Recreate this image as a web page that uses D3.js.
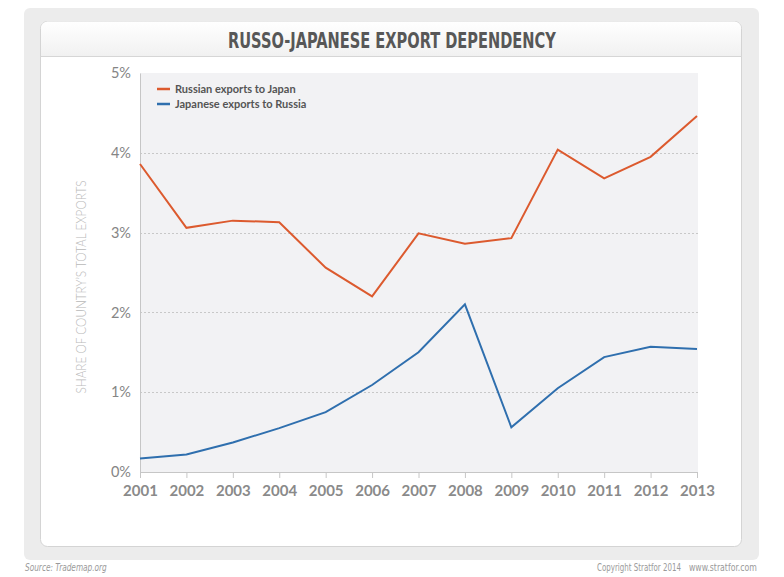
<!DOCTYPE html>
<html><head><meta charset="utf-8">
<script src="https://cdn.jsdelivr.net/npm/d3@7"></script>
<style>
html,body{margin:0;padding:0;background:#fff;}
svg{display:block;}
</style></head>
<body>
<svg id="chart" width="784" height="577"></svg>
<script>
const years = [2001,2002,2003,2004,2005,2006,2007,2008,2009,2010,2011,2012,2013];
const russiaToJapan = [3.86,3.06,3.15,3.13,2.56,2.20,2.99,2.86,2.93,4.04,3.68,3.95,4.46];
const japanToRussia = [0.17,0.22,0.37,0.55,0.75,1.09,1.50,2.10,0.56,1.05,1.44,1.57,1.54];
const yTicks = [0,1,2,3,4,5];
const seriesNames = ["Russian exports to Japan","Japanese exports to Russia"];
const seriesColors = ["#dc5a2e","#2f6fae"];

(function(){
const svg = d3.select("#chart");
const font = "Lato, 'Open Sans', sans-serif";
const narrow = "'DejaVu Sans Condensed','Liberation Sans Narrow',sans-serif";

svg.append("rect").attr("x",24).attr("y",8).attr("width",735).attr("height",552).attr("rx",6).attr("fill","#ececec");
const defs = svg.append("defs");
const g1 = defs.append("linearGradient").attr("id","hdr").attr("x1",0).attr("x2",0).attr("y1",0).attr("y2",1);
g1.append("stop").attr("offset","0%").attr("stop-color","#ffffff");
g1.append("stop").attr("offset","100%").attr("stop-color","#f1f1f1");
svg.append("rect").attr("x",40.5).attr("y",21.5).attr("width",701).attr("height",525).attr("rx",7)
  .attr("fill","#fff").attr("stroke","#d4d4d4").attr("stroke-width",1);
svg.append("path").attr("d","M41,56 V28.5 a7,7 0 0 1 7,-7 H734 a7,7 0 0 1 7,7 V56 Z").attr("fill","url(#hdr)");
svg.append("line").attr("x1",40.5).attr("x2",741.5).attr("y1",56.5).attr("y2",56.5).attr("stroke","#d6d6d6");

// text squeezed horizontally to a target width (via transform so its box is true)
function fitText(parent, xStart, yBase, width, text, attrs){
  const g = parent.append("g");
  const t = g.append("text").attr("x",0).attr("y",0).text(text);
  Object.entries(attrs).forEach(([k,v])=>t.attr(k,v));
  const w = t.node().getComputedTextLength();
  const s = width / w;
  g.attr("transform",`translate(${xStart},${yBase}) scale(${s},1)`);
  return g;
}

fitText(svg, 228, 47.5, 328, "RUSSO-JAPANESE EXPORT DEPENDENCY",
  {"font-family":narrow,"font-weight":"bold","font-size":21,"fill":"#575757"});

const pl = 140, pr = 698, pt = 73, pb = 472;
const x = d3.scalePoint().domain(years).range([pl, 697]);
const y = d3.scaleLinear().domain([0,5]).range([pb, pt]);

svg.append("rect").attr("x",pl).attr("y",pt).attr("width",pr-pl).attr("height",pb-pt).attr("fill","#f2f2f4");

svg.append("g").selectAll("line").data(yTicks.filter(d=>d>0 && d<5)).join("line")
  .attr("x1",pl).attr("x2",pr).attr("y1",d=>Math.round(y(d))+0.5).attr("y2",d=>Math.round(y(d))+0.5)
  .attr("stroke","#c8c8c8").attr("stroke-dasharray","2,2");

const yAxis = svg.append("g").attr("transform",`translate(${pl},0)`)
  .call(d3.axisLeft(y).tickValues(yTicks).tickSize(0).tickPadding(9).tickFormat(d=>d+"%"));
yAxis.select(".domain").attr("stroke","#c6c6c6");
yAxis.selectAll("text").attr("font-family",font).attr("font-size",14.5).attr("fill","#858585");

const xAxis = svg.append("g").attr("transform",`translate(0,${pb})`)
  .call(d3.axisBottom(x).tickSize(6).tickPadding(7).tickFormat(d3.format("d")));
xAxis.select(".domain").attr("stroke","#c6c6c6").attr("d",`M${pl},0.5H${pr}`);
xAxis.selectAll(".tick line").attr("stroke","#c6c6c6");
xAxis.selectAll("text").attr("font-family",font).attr("font-size",15).attr("font-weight","bold").attr("fill","#8a8a8a");

svg.append("text").attr("transform","translate(86,287) rotate(-90)").attr("text-anchor","middle")
  .attr("font-family",font).attr("font-weight",300).attr("font-size",13).attr("fill","#b9b9b9")
  .attr("textLength",213).attr("lengthAdjust","spacingAndGlyphs")
  .text("SHARE OF COUNTRY\u2019S TOTAL EXPORTS");

const line = d3.line().x((d,i)=>x(years[i])).y(d=>y(d));
[russiaToJapan, japanToRussia].forEach((s,i)=>{
  svg.append("path").datum(s).attr("d",line).attr("fill","none")
    .attr("stroke",seriesColors[i]).attr("stroke-width",2).attr("stroke-linejoin","miter");
});

const lg = svg.append("g");
seriesNames.forEach((n,i)=>{
  const yy = 89 + i*15;
  lg.append("line").attr("x1",157).attr("x2",170).attr("y1",yy).attr("y2",yy)
    .attr("stroke",seriesColors[i]).attr("stroke-width",2.5);
  lg.append("text").attr("x",175).attr("y",yy+4).attr("font-family",font).attr("font-weight","bold")
    .attr("font-size",11).attr("fill","#555").text(n);
});

const foot = {"font-family":narrow,"font-size":10,"fill":"#9a9a9a"};
fitText(svg, 25, 571, 82, "Source: Trademap.org", Object.assign({"font-style":"italic"}, foot));
fitText(svg, 597, 571, 84, "Copyright Stratfor 2014", foot);
fitText(svg, 689, 571, 68, "www.stratfor.com", foot);
})();
</script>
</body></html>
